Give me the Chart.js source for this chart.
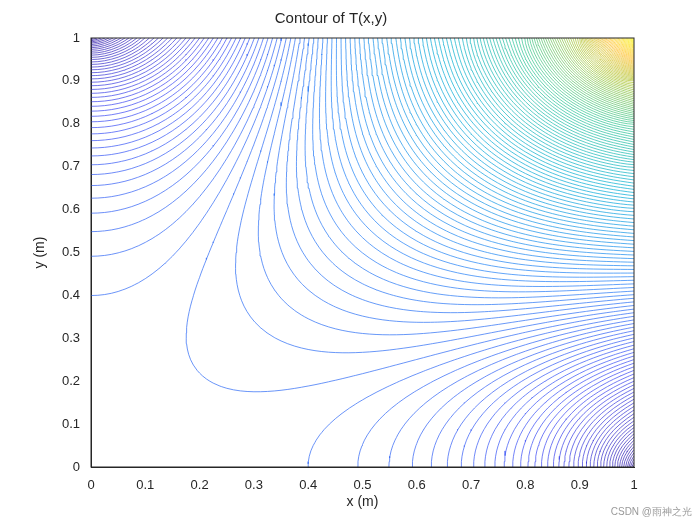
<!DOCTYPE html>
<html><head><meta charset="utf-8">
<script src="https://cdn.jsdelivr.net/npm/chart.js@4.4.1/dist/chart.umd.min.js"></script>
<style>body{margin:0;background:#fff}#w{width:700px;height:525px;position:relative}
#wm{position:absolute;right:8px;bottom:6px;font:10px "Liberation Sans",sans-serif;color:#999}</style>
</head><body><div id="w"><canvas id="c"></canvas><div id="wm">CSDN @雨神之光</div></div>
<script>
// Boundary temperatures (normalised), at 0,0.1,...,1
const boundaryPos = [0,0.1,0.2,0.3,0.4,0.5,0.6,0.7,0.8,0.9,1];
const topT   = [0,0.08,0.15,0.22,0.29,0.36,0.43,0.51,0.61,0.75,1.0];   // T(x,1)
const rightT = [0,0.08,0.15,0.22,0.29,0.36,0.43,0.51,0.61,0.75,1.0];   // T(1,y)
const tickLabels = ["0","0.1","0.2","0.3","0.4","0.5","0.6","0.7","0.8","0.9","1"];
const nLevels = 170;
const levelOffset = 0.5;

function bnd(arr,t){const k=Math.min(9,Math.floor(t*10));const f=t*10-k;return arr[k]+(arr[k+1]-arr[k])*f;}
const N=81, h=1/(N-1);
const T=[];for(let j=0;j<N;j++){T.push(new Float64Array(N));}
for(let i=0;i<N;i++){T[N-1][i]=bnd(topT,i*h);}
for(let j=0;j<N;j++){T[j][N-1]=bnd(rightT,j*h);}
for(let it=0;it<2500;it++){
  for(let j=0;j<N-1;j++)for(let i=0;i<N-1;i++){
    const l=i>0?T[j][i-1]:T[j][i+1], d=j>0?T[j-1][i]:T[j+1][i];
    const v=(l+T[j][i+1]+d+T[j+1][i])/4;
    T[j][i]+=1.85*(v-T[j][i]);
  }
}
function parula(t){const s=[[0.2422,0.1504,0.6603],[0.2810,0.3228,0.9579],[0.1786,0.5289,0.9682],[0.0689,0.6948,0.8394],[0.2161,0.7843,0.5923],[0.6720,0.7793,0.2227],[0.9970,0.7659,0.2199],[0.9769,0.9839,0.0805]];
 const x=t*(s.length-1),k=Math.min(s.length-2,Math.floor(x)),f=x-k;const c=s[k].map((v,q)=>Math.round(255*(v+(s[k+1][q]-v)*f)));return `rgb(${c})`;}
const GAP={x:NaN,y:NaN};
const datasets=[];
for(let L=1;L<=nLevels;L++){
  const lev=(L-levelOffset)/(nLevels); const pts=[];
  for(let j=0;j<N-1;j++)for(let i=0;i<N-1;i++){
    const c=[[i,j],[i+1,j],[i+1,j+1],[i,j+1]];const v=c.map(p=>T[p[1]][p[0]]);
    const cr=[];
    for(let e=0;e<4;e++){const a=v[e],b=v[(e+1)%4];if((a<lev)!==(b<lev)){const f=(lev-a)/(b-a);const p=c[e],q=c[(e+1)%4];cr.push({x:(p[0]+(q[0]-p[0])*f)*h,y:(p[1]+(q[1]-p[1])*f)*h});}}
    if(cr.length===2){pts.push(cr[0],cr[1],{...GAP});}
    else if(cr.length===4){pts.push(cr[0],cr[1],{...GAP},cr[2],cr[3],{...GAP});}
  }
  datasets.push({data:pts,showLine:true,borderColor:parula(Math.pow(lev,1.1)),borderWidth:0.75,pointRadius:0,spanGaps:false});
}
const bx={id:'bx',afterDraw(c){const a=c.chartArea,g=c.ctx;g.save();g.strokeStyle='#262626';g.lineWidth=1;g.strokeRect(a.left,a.top,a.right-a.left,a.bottom-a.top);g.restore();}};
const font={family:'"Liberation Sans", Arial, sans-serif',size:13};
const ax=(t)=>({type:'linear',min:0,max:1,grid:{display:false},border:{color:'#262626'},
  ticks:{stepSize:0.1,color:'#262626',font,callback:(v)=>tickLabels[Math.round(v*10)]},
  title:{display:true,text:t,color:'#262626',font:{...font,size:14}}});
new Chart(document.getElementById('c'),{type:'scatter',data:{datasets},plugins:[bx],
 options:{responsive:true,maintainAspectRatio:false,animation:false,
  layout:{padding:{left:28,right:66,top:6,bottom:10}},
  plugins:{legend:{display:false},tooltip:{enabled:false},
   title:{display:true,text:'Contour of T(x,y)',color:'#262626',font:{...font,size:15,weight:'normal'},padding:{top:4,bottom:10}}},
  scales:{x:{...ax('x (m)'),afterFit:s=>{s.height=48;}},y:{...ax('y (m)'),afterFit:s=>{s.width=63;}}}}});
</script></body></html>
